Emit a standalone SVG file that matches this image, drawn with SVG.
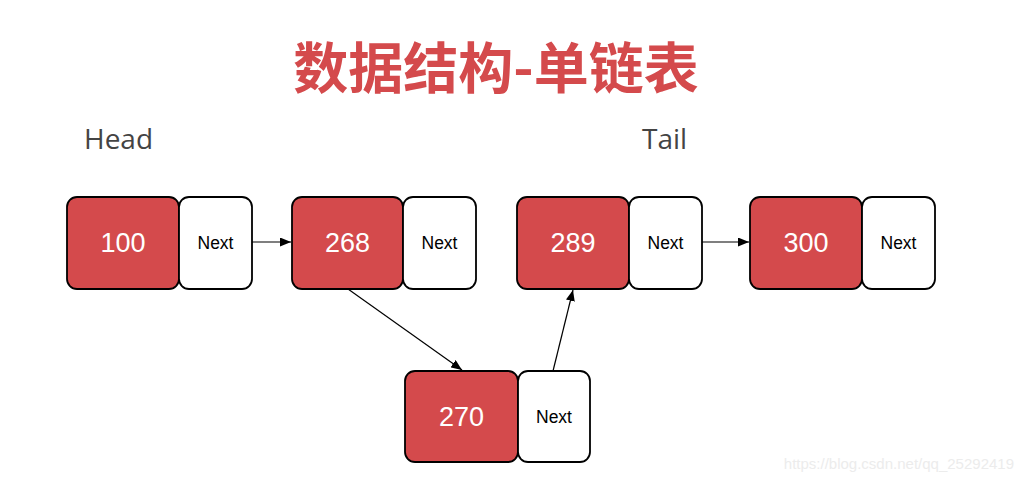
<svg xmlns="http://www.w3.org/2000/svg" width="1024" height="481" viewBox="0 0 1024 481">
<defs>
<style>
.val{fill:#d44a4c;stroke:#000;stroke-width:1.8}
.nxt{fill:#fff;stroke:#000;stroke-width:1.8}
.vt{font-family:"Liberation Sans",Arial,sans-serif;font-size:27px;fill:#fff;text-anchor:middle}
.nt{font-family:"Liberation Sans",Arial,sans-serif;font-size:17.5px;fill:#000;text-anchor:middle}
.lbl{font-family:"Open Sans","Noto Sans",sans-serif;font-size:28px;fill:#444}
.edge{stroke:#000;stroke-width:1.2;fill:none;marker-end:url(#ah)}
</style>
<marker id="ah" markerWidth="11" markerHeight="9" refX="11" refY="4.5" orient="auto" markerUnits="userSpaceOnUse">
<path d="M0,0 L11,4.5 L0,9 Z" fill="#000"/>
</marker>
</defs>
<rect width="1024" height="481" fill="#fff"/>
<text x="496" y="88" font-family="'Noto Sans CJK SC',sans-serif" font-weight="bold" font-size="55" fill="#d44a4c" text-anchor="middle">数据结构-单链表</text>
<text class="lbl" x="84" y="149">Head</text>
<text class="lbl" x="642" y="149">Tail</text>
<g id="connectors">
<line class="edge" x1="252" y1="242" x2="291" y2="242"/>
<line class="edge" x1="348" y1="289" x2="462" y2="370"/>
<line class="edge" x1="553" y1="371" x2="573" y2="290"/>
<line class="edge" x1="702" y1="242" x2="749" y2="242"/>
</g>
<g id="node100">
<rect class="val" x="67" y="197" width="112" height="92" rx="10"/>
<rect class="nxt" x="179" y="197" width="73" height="92" rx="10"/>
<text class="vt" x="123" y="252">100</text>
<text class="nt" x="215.5" y="249">Next</text>
</g>
<g id="node268">
<rect class="val" x="292" y="197" width="111" height="92" rx="10"/>
<rect class="nxt" x="403" y="197" width="73" height="92" rx="10"/>
<text class="vt" x="347.5" y="252">268</text>
<text class="nt" x="439.5" y="249">Next</text>
</g>
<g id="node289">
<rect class="val" x="517" y="197" width="112" height="92" rx="10"/>
<rect class="nxt" x="629" y="197" width="73" height="92" rx="10"/>
<text class="vt" x="573" y="252">289</text>
<text class="nt" x="665.5" y="249">Next</text>
</g>
<g id="node300">
<rect class="val" x="750" y="197" width="112" height="92" rx="10"/>
<rect class="nxt" x="862" y="197" width="73" height="92" rx="10"/>
<text class="vt" x="806" y="252">300</text>
<text class="nt" x="898.5" y="249">Next</text>
</g>
<g id="node270">
<rect class="val" x="405" y="371" width="113" height="91" rx="10"/>
<rect class="nxt" x="518" y="371" width="72" height="91" rx="10"/>
<text class="vt" x="461.5" y="426">270</text>
<text class="nt" x="554" y="423">Next</text>
</g>
<text x="1014" y="469" font-family="'Liberation Sans',Arial,sans-serif" font-size="15" fill="#ececec" text-anchor="end">https://blog.csdn.net/qq_25292419</text>
</svg>
